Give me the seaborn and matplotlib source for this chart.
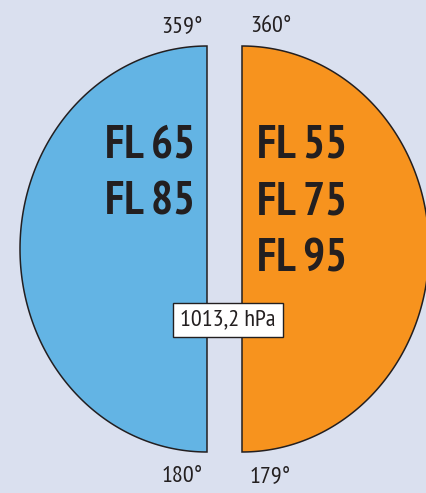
import numpy as np
import matplotlib
matplotlib.use("Agg")
import matplotlib.pyplot as plt
from matplotlib import font_manager
import seaborn as sns

# === data ===
west_headings = [180, 359]      # left half: bottom / top heading
east_headings = [179, 360]      # right half: bottom / top heading
west_levels = [65, 85]
east_levels = [55, 75, 95]
qnh_label = "1013,2 hPa"

# === style ===
sns.set_theme(style="white")
names = {f.name for f in font_manager.fontManager.ttflist}
wanted = ["PT Sans Narrow", "Roboto Condensed", "Fira Sans Condensed",
          "Archivo Narrow", "Saira SemiCondensed"]
fams = [n for n in wanted if n in names] + ["DejaVu Sans"]
plt.rcParams["font.family"] = fams

bg = "#dae0ef"
blue = "#63b4e4"
orange = "#f7931e"
ink = "#231f20"

fig = plt.figure(figsize=(4.27, 4.93), dpi=100, facecolor=bg)
ax = fig.add_axes([0, 0, 1, 1])
ax.set_facecolor(bg)
ax.set_xlim(0, 427)
ax.set_ylim(493, 0)
ax.axis("off")

cy, ry, rx = 249, 203, 187


def half(ax, x0, side, color):
    # side -1 -> bulges left, +1 -> bulges right
    t = np.linspace(-np.pi / 2, np.pi / 2, 200)
    xs = x0 + side * rx * np.cos(t)
    ys = cy + ry * np.sin(t)
    xs = np.concatenate([xs, [x0]])
    ys = np.concatenate([ys, [cy - ry]])
    ax.fill(xs, ys, facecolor=color, edgecolor=ink, linewidth=1.1, zorder=2)


half(ax, 207, -1, blue)
half(ax, 242, 1, orange)

# heading labels
deg_kw = dict(fontsize=17.5, color=ink, va="baseline", zorder=3)
ax.text(203, 32, f"{west_headings[1]}°", ha="right", **deg_kw)
ax.text(203, 482, f"{west_headings[0]}°", ha="right", **deg_kw)
ax.text(250, 32, f"{east_headings[1]}°", ha="left", **deg_kw)
ax.text(250, 482, f"{east_headings[0]}°", ha="left", **deg_kw)

# flight levels
fl_kw = dict(fontsize=33, fontweight="bold", color=ink, va="baseline", zorder=3)
for i, fl in enumerate(west_levels):
    ax.text(195, 157 + 57.5 * i, f"FL {fl}", ha="right", **fl_kw)
for i, fl in enumerate(east_levels):
    ax.text(257, 157 + 57.5 * i, f"FL {fl}", ha="left", **fl_kw)

# pressure box
ax.text(228, 320, qnh_label, ha="center", va="center", fontsize=17.5, color=ink,
        zorder=4,
        bbox=dict(boxstyle="square,pad=0.28", facecolor="white", edgecolor=ink,
                  linewidth=1.0))

fig.savefig("out.png", dpi=100, facecolor=bg)
